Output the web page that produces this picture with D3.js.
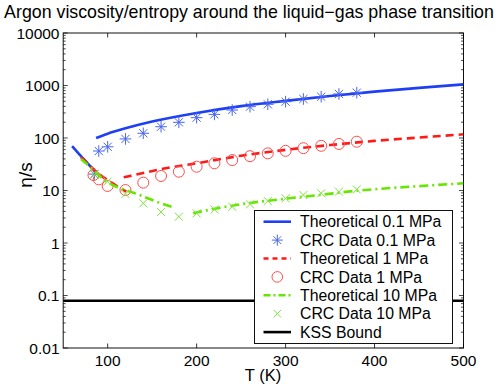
<!DOCTYPE html>
<html><head><meta charset="utf-8">
<script src="https://cdn.jsdelivr.net/npm/d3@7"></script>
<style>
html,body{margin:0;padding:0;background:#fff;}
svg{display:block;font-family:"Liberation Sans",Arial,Helvetica,sans-serif;}
</style></head>
<body>
<svg id="chart" width="499" height="388"></svg>
<script>
// ---- data ----
const xTicks = [100, 200, 300, 400, 500];
const yTicks = [0.01, 0.1, 1, 10, 100, 1000, 10000];
const yTickLabels = ["0.01", "0.1", "1", "10", "100", "1000", "10000"];

// Theoretical 0.1 MPa (liquid branch, break, gas branch)
const theo01T = [60, 65, 70, 75, 80, 84, 87, null, 87, 100, 120, 150, 200, 250, 300, 350, 400, 450, 500];
const theo01V = [70, 56, 45, 36.5, 29.5, 25, 21.5, null, 100, 121, 153, 206, 300, 405, 510, 632, 765, 900, 1050];

// Theoretical 1 MPa
const theo1T = [70, 75, 80, 85, 90, 100, 110, 121, null, 118, 140, 160, 200, 250, 300, 350, 400, 450, 500];
const theo1V = [43, 36, 29.5, 24.5, 20.5, 15.8, 12.2, 9.5, null, 17.8, 21.5, 25.5, 33, 46, 59.5, 73.5, 88, 102, 117.5];

// Theoretical 10 MPa
const theo10T = [70, 80, 90, 100, 110, 120, 136, 150, 160, 174, null, 196, 222, 260, 294, 340, 380, 440, 500];
const theo10V = [40, 28.5, 19.5, 14.2, 11.8, 10.2, 8.2, 6.6, 5.7, 4.8, null, 3.68, 4.55, 5.8, 6.8, 8.3, 9.9, 11.8, 13.7];

// CRC data
const crc01T = [85, 90, 100, 120, 140, 160, 180, 200, 220, 240, 260, 280, 300, 320, 340, 360, 380];
const crc01V = [20.5, 56.5, 68, 96, 123, 164, 199, 244, 282, 341, 395, 439, 492, 553, 612, 689, 729];

const crc1T = [84, 90, 100, 120, 140, 160, 180, 200, 220, 240, 260, 280, 300, 320, 340, 360, 380];
const crc1V = [19.7, 16.3, 12.2, 10.2, 14.1, 18.9, 22.8, 28.4, 33, 38, 45, 51, 57, 64, 71, 77, 85];

const crc10T = [85, 100, 120, 140, 160, 180, 200, 220, 240, 260, 280, 300, 320, 340, 360, 380];
const crc10V = [20, 14.8, 8.6, 5.7, 3.9, 3.17, 3.67, 4.35, 4.9, 5.46, 6.3, 7.1, 8.2, 8.85, 9.5, 10.5];

const kssT = [50, 500];
const kssV = [1 / (4 * Math.PI), 1 / (4 * Math.PI)];

const legendLabels = ["Theoretical 0.1 MPa", "CRC Data 0.1 MPa", "Theoretical 1 MPa", "CRC Data 1 MPa",
                      "Theoretical 10 MPa", "CRC Data 10 MPa", "KSS Bound"];

// ---- layout ----
const L = 63.2, R = 463.5, T = 33, B = 348;
const svg = d3.select("#chart");
const x = d3.scaleLinear().domain([50, 500]).range([L, R]);
const y = d3.scaleLog().domain([0.01, 10000]).range([B, T]);

const BLUE = "#1f3ff5", BLUE_M = "#4a66f0";
const RED = "#ff1a1a", RED_M = "#ff4d4d";
const GREEN = "#66e600", GREEN_M = "#80e640";

const zip = (ts, vs) => ts.map((t, i) => ({t: t, v: vs[i]}));

// clip
svg.append("clipPath").attr("id", "clip").append("rect")
  .attr("x", L).attr("y", T).attr("width", R - L).attr("height", B - T);

// ---- axes ----
const ax = svg.append("g").attr("stroke", "#000").attr("fill", "none");
// box
ax.append("rect").attr("x", L).attr("y", T).attr("width", R - L).attr("height", B - T)
  .attr("stroke-width", 1).attr("stroke", "#111");

// x major ticks bottom & top (inward)
xTicks.forEach(v => {
  const px = x(v);
  ax.append("line").attr("x1", px).attr("x2", px).attr("y1", B).attr("y2", B - 4.5).attr("stroke-width", 0.8);
  ax.append("line").attr("x1", px).attr("x2", px).attr("y1", T).attr("y2", T + 4.5).attr("stroke-width", 0.8);
});
// y ticks major & minor left & right
const allY = y.ticks();
allY.forEach(v => {
  const py = y(v);
  const major = yTicks.some(m => Math.abs(Math.log10(m) - Math.log10(v)) < 1e-9);
  const len = major ? 4.5 : 2.5;
  ax.append("line").attr("x1", L).attr("x2", L + len).attr("y1", py).attr("y2", py).attr("stroke-width", 0.7);
  ax.append("line").attr("x1", R).attr("x2", R - len).attr("y1", py).attr("y2", py).attr("stroke-width", 0.7);
});

// tick labels
const tl = svg.append("g").attr("fill", "#000").attr("font-size", "15.5px");
xTicks.forEach(v => {
  tl.append("text").attr("x", x(v)).attr("y", 366).attr("text-anchor", "middle").text(String(v));
});
yTicks.forEach((v, i) => {
  tl.append("text").attr("x", 59.5).attr("y", y(v)).attr("dy", "0.36em").attr("text-anchor", "end").text(yTickLabels[i]);
});

// axis labels & title
svg.append("text").attr("x", 263).attr("y", 381).attr("text-anchor", "middle")
  .attr("font-size", "16.5px").text("T (K)");
svg.append("text").attr("transform", "translate(32,175) rotate(-90)").attr("text-anchor", "middle")
  .attr("font-size", "19px").text("η/s");
svg.append("text").attr("x", 249).attr("y", 18).attr("text-anchor", "middle")
  .attr("font-size", "17.8px").text("Argon viscosity/entropy around the liquid−gas phase transition");

// ---- plot ----
const plot = svg.append("g").attr("clip-path", "url(#clip)");
const line = d3.line().defined(d => d.t != null && d.v != null).x(d => x(d.t)).y(d => y(d.v)).curve(d3.curveMonotoneX);

// KSS
plot.append("path").datum(zip(kssT, kssV)).attr("d", d3.line().x(d => x(d.t)).y(d => y(d.v)))
  .attr("fill", "none").attr("stroke", "#000").attr("stroke-width", 2.5);

function star(g, cx, cy, r, color) {
  const a = r * 0.707;
  g.append("path").attr("d",
    `M${cx - r},${cy}L${cx + r},${cy}M${cx},${cy - r}L${cx},${cy + r}` +
    `M${cx - a},${cy - a}L${cx + a},${cy + a}M${cx - a},${cy + a}L${cx + a},${cy - a}`)
    .attr("stroke", color).attr("stroke-width", 1).attr("fill", "none");
}
function circ(g, cx, cy, r, color) {
  g.append("circle").attr("cx", cx).attr("cy", cy).attr("r", r)
    .attr("stroke", color).attr("stroke-width", 1).attr("fill", "none");
}
function cross(g, cx, cy, r, color) {
  g.append("path").attr("d", `M${cx - r},${cy - r}L${cx + r},${cy + r}M${cx - r},${cy + r}L${cx + r},${cy - r}`)
    .attr("stroke", color).attr("stroke-width", 1).attr("fill", "none");
}

// Theoretical lines
plot.append("path").datum(zip(theo01T, theo01V)).attr("d", line)
  .attr("fill", "none").attr("stroke", BLUE).attr("stroke-width", 2.6);
zip(crc01T, crc01V).forEach(d => star(plot, x(d.t), y(d.v), 5.8, BLUE_M));

plot.append("path").datum(zip(theo1T, theo1V)).attr("d", line)
  .attr("fill", "none").attr("stroke", RED).attr("stroke-width", 2.6).attr("stroke-dasharray", "8,5");
zip(crc1T, crc1V).forEach(d => circ(plot, x(d.t), y(d.v), 5.5, RED_M));

plot.append("path").datum(zip(theo10T, theo10V)).attr("d", line)
  .attr("fill", "none").attr("stroke", GREEN).attr("stroke-width", 2.6).attr("stroke-dasharray", "9,4,2,4");
zip(crc10T, crc10V).forEach(d => cross(plot, x(d.t), y(d.v), 4, GREEN_M));

// ---- legend ----
const lg = svg.append("g");
lg.append("rect").attr("x", 254.5).attr("y", 210.5).attr("width", 198).attr("height", 133)
  .attr("fill", "#fff").attr("stroke", "#111").attr("stroke-width", 1);
const rowY = i => 221.7 + i * 18.4;
const lx1 = 263.5, lx2 = 291, lmx = 277.3;
const styles = [
  {type: "line", color: BLUE, dash: null},
  {type: "star", color: BLUE_M},
  {type: "line", color: RED, dash: "5,4"},
  {type: "circ", color: RED_M},
  {type: "line", color: GREEN, dash: "7,3,2,3"},
  {type: "cross", color: GREEN_M},
  {type: "line", color: "#000", dash: null}
];
legendLabels.forEach((lab, i) => {
  const yy = rowY(i), s = styles[i];
  if (s.type === "line") {
    const p = lg.append("line").attr("x1", lx1).attr("x2", lx2).attr("y1", yy).attr("y2", yy)
      .attr("stroke", s.color).attr("stroke-width", 2.6);
    if (s.dash) p.attr("stroke-dasharray", s.dash);
  } else if (s.type === "star") star(lg, lmx, yy, 5.5, s.color);
  else if (s.type === "circ") circ(lg, lmx, yy, 5.3, s.color);
  else cross(lg, lmx, yy, 3.8, s.color);
  lg.append("text").attr("x", 300).attr("y", yy).attr("dy", "0.36em").attr("font-size", "15.8px").text(lab);
});
</script>
</body></html>
